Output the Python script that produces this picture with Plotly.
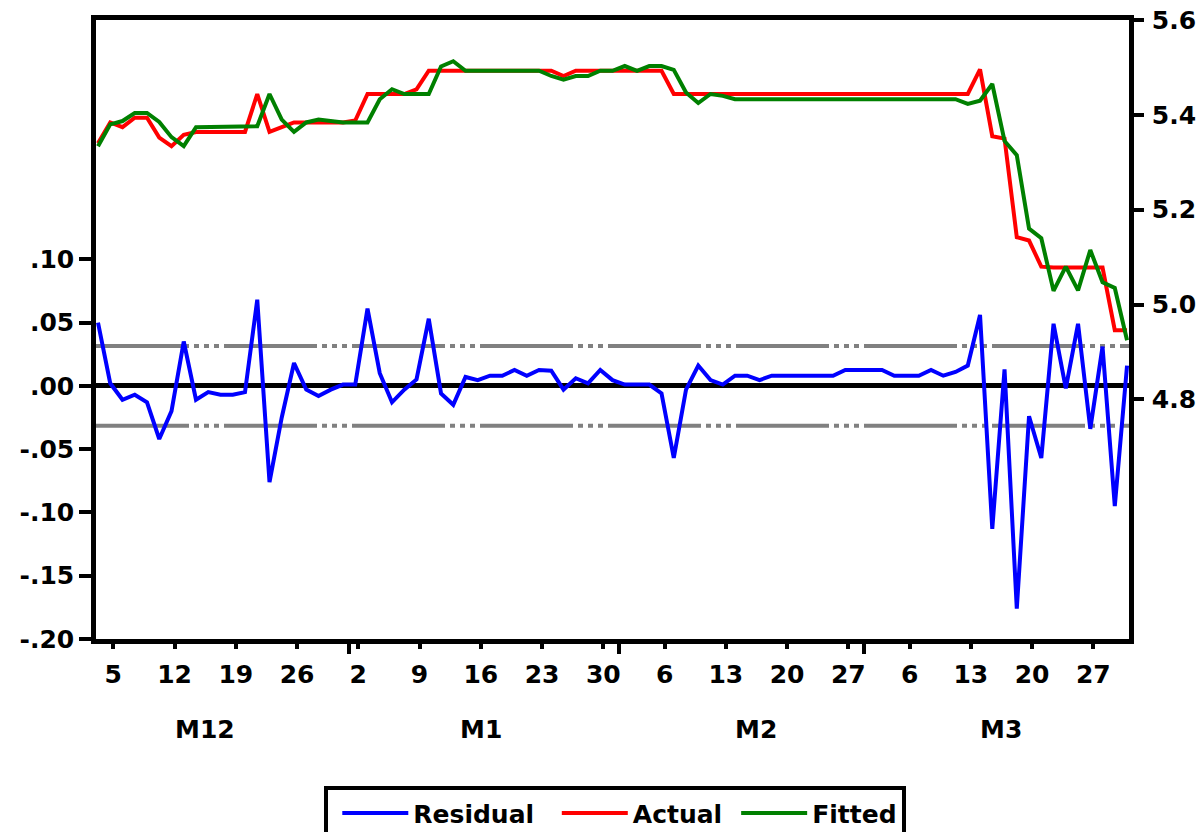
import pandas as pd
import plotly.graph_objects as go

# ---- data (business days, 2 Dec 2016 .. 30 Mar 2017) ----
dates = pd.bdate_range("2016-12-02", "2017-03-30")
obs = list(range(len(dates)))

actual = [5.340, 5.384, 5.374, 5.394, 5.394, 5.352, 5.334, 5.358, 5.364, 5.364,
          5.364, 5.364, 5.364, 5.444, 5.364, 5.374, 5.384, 5.384, 5.384, 5.384,
          5.384, 5.388, 5.444, 5.444, 5.444, 5.444, 5.454, 5.493, 5.493, 5.493,
          5.493, 5.493, 5.493, 5.493, 5.493, 5.493, 5.493, 5.493, 5.482, 5.493,
          5.493, 5.493, 5.493, 5.493, 5.493, 5.493, 5.493, 5.444, 5.444, 5.444,
          5.444, 5.444, 5.444, 5.444, 5.444, 5.444, 5.444, 5.444, 5.444, 5.444,
          5.444, 5.444, 5.444, 5.444, 5.444, 5.444, 5.444, 5.444, 5.444, 5.444,
          5.444, 5.444, 5.496, 5.355, 5.350, 5.142, 5.135, 5.080, 5.078, 5.078,
          5.078, 5.078, 5.078, 4.946, 4.946]

fitted = [5.334, 5.380, 5.387, 5.404, 5.404, 5.385, 5.353, 5.334, 5.374, 5.374,
          5.374, 5.374, 5.374, 5.376, 5.444, 5.390, 5.364, 5.384, 5.390, 5.387,
          5.384, 5.384, 5.384, 5.433, 5.454, 5.444, 5.444, 5.444, 5.502, 5.513,
          5.493, 5.493, 5.493, 5.493, 5.493, 5.493, 5.493, 5.482, 5.474, 5.482,
          5.482, 5.493, 5.493, 5.503, 5.493, 5.503, 5.503, 5.495, 5.447, 5.425,
          5.444, 5.440, 5.433, 5.433, 5.433, 5.433, 5.433, 5.433, 5.433, 5.433,
          5.433, 5.433, 5.433, 5.433, 5.433, 5.433, 5.433, 5.433, 5.433, 5.433,
          5.433, 5.423, 5.430, 5.465, 5.345, 5.315, 5.160, 5.140, 5.029, 5.080,
          5.030, 5.115, 5.047, 5.035, 4.925]

residual = [0.050, 0.002, -0.011, -0.007, -0.013, -0.042, -0.020, 0.035, -0.011, -0.005,
            -0.007, -0.007, -0.005, 0.068, -0.076, -0.025, 0.018, -0.003, -0.008, -0.003,
            0.001, 0.001, 0.061, 0.010, -0.013, -0.003, 0.005, 0.053, -0.006, -0.015,
            0.007, 0.0045, 0.008, 0.008, 0.0125, 0.008, 0.0125, 0.012, -0.003, 0.006,
            0.002, 0.0125, 0.0045, 0.001, 0.001, 0.001, -0.006, -0.057, -0.003, 0.016,
            0.0045, 0.001, 0.008, 0.008, 0.0045, 0.008, 0.008, 0.008, 0.008, 0.008,
            0.008, 0.0126, 0.0126, 0.0126, 0.0126, 0.008, 0.008, 0.008, 0.0126, 0.008,
            0.011, 0.016, 0.056, -0.113, 0.013, -0.176, -0.024, -0.057, 0.049, -0.002,
            0.049, -0.034, 0.031, -0.095, 0.016]

SE = 0.0315  # residual standard error (dash-dot band)

series_names = ["Residual", "Actual", "Fitted"]
month_labels = ["M12", "M1", "M2", "M3"]
resid_ticks = [-0.20, -0.15, -0.10, -0.05, 0.00, 0.05, 0.10]
resid_ticktext = ["-.20", "-.15", "-.10", "-.05", ".00", ".05", ".10"]
level_ticks = [4.8, 5.0, 5.2, 5.4, 5.6]
level_ticktext = ["4.8", "5.0", "5.2", "5.4", "5.6"]

# ---- axis helpers derived from the dates ----
TICK_SHIFT = 0.25
monday_pos = [i + TICK_SHIFT for i, d in enumerate(dates) if d.weekday() == 0]
monday_txt = [str(d.day) for d in dates if d.weekday() == 0]
month_bounds = [i + 0.5 for i in range(len(dates) - 1) if dates[i].month != dates[i + 1].month]
month_centers = []
for m in pd.unique(dates.month):
    mp = [i + TICK_SHIFT for i, d in enumerate(dates) if d.weekday() == 0 and d.month == m]
    month_centers.append(sum(mp) / len(mp))

FONT = dict(family="DejaVu Sans", size=25, color="black", weight="bold")
LW = 4.5
PAD = "\u00a0"  # legend spacing

fig = go.Figure()
fig.add_trace(go.Scatter(x=obs, y=residual, name=series_names[0] + PAD, mode="lines",
                         line=dict(color="#0000FF", width=4), yaxis="y"))
fig.add_trace(go.Scatter(x=obs, y=actual, name=series_names[1], mode="lines",
                         line=dict(color="#FF0000", width=4), yaxis="y2"))
fig.add_trace(go.Scatter(x=obs, y=fitted, name=series_names[2], mode="lines",
                         line=dict(color="#008000", width=4), yaxis="y2"))

for v in (SE, -SE):
    fig.add_shape(type="line", xref="paper", x0=0, x1=1, yref="y", y0=v, y1=v,
                  line=dict(color="#808080", width=4,
                            dash="93px,5px,5px,5px,5px,5px,5px,5px"),
                  layer="below")

for c, lab in zip(month_centers, month_labels):
    fig.add_annotation(x=c, xref="x", y=-0.146, yref="paper", text=lab,
                       showarrow=False, font=FONT, xanchor="center", yanchor="middle")

fig.update_layout(
    width=1203, height=832,
    margin=dict(l=96, r=74, t=19.5, b=192.5, autoexpand=False),
    paper_bgcolor="white", plot_bgcolor="white",
    font=FONT,
    showlegend=True,
    legend=dict(orientation="h", x=0.221, xanchor="left", y=-0.238, yanchor="top",
                bordercolor="black", borderwidth=4, bgcolor="white",
                font=FONT, itemwidth=66, indentation=9),
    xaxis=dict(range=[-0.163, 84.16], showgrid=False, zeroline=False,
               showline=True, linecolor="black", linewidth=LW, mirror=True,
               tickvals=monday_pos, ticktext=monday_txt, ticks="outside",
               ticklen=5, tickwidth=4, tickcolor="black", tickfont=FONT,
               ticklabelstandoff=4,
               minor=dict(tickvals=month_bounds, ticks="outside", ticklen=10,
                          tickwidth=4, tickcolor="black", showgrid=False)),
    yaxis=dict(range=[-0.2, 0.289], showgrid=False,
               zeroline=True, zerolinecolor="black", zerolinewidth=LW,
               showline=True, linecolor="black", linewidth=LW,
               tickvals=resid_ticks, ticktext=resid_ticktext, ticks="outside",
               ticklen=12, tickwidth=4, tickcolor="black", tickfont=FONT),
    yaxis2=dict(range=[4.295, 5.6], overlaying="y", side="right", showgrid=False,
                zeroline=False, showline=True, linecolor="black", linewidth=LW,
                tickvals=level_ticks, ticktext=level_ticktext, ticks="outside",
                ticklen=10, tickwidth=4, tickcolor="black", tickfont=FONT,
                ticklabelstandoff=3),
)

fig.write_html("out.html", config={"displayModeBar": False},
               post_script="document.body.style.margin='0';document.body.style.overflow='hidden';")
